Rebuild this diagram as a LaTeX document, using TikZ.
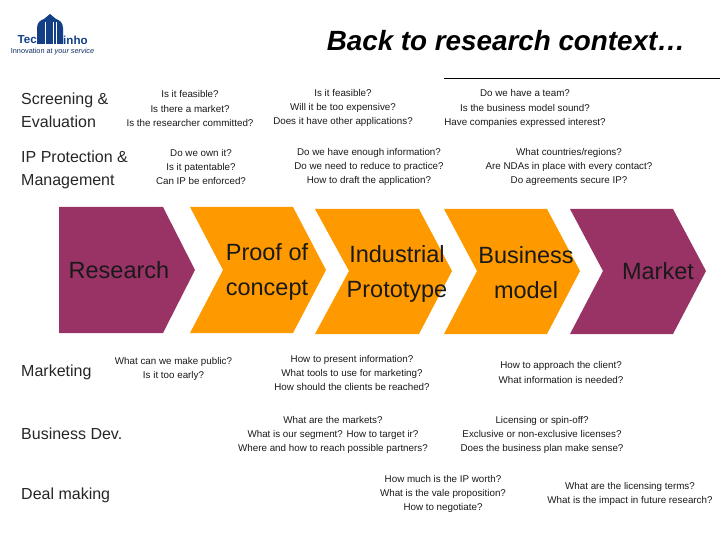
\documentclass[tikz,border=0pt]{standalone}
\usepackage{fontspec}
\setmainfont{Liberation Sans}
\definecolor{plum}{HTML}{993366}
\definecolor{amber}{HTML}{FF9900}
\definecolor{logoblue}{HTML}{123F86}
\tikzset{
    question/.style = {align = center, inner sep = 0pt, font = \fontsize{9.8}{14.4}\selectfont, text = black!90},
    area/.style = {align = left, anchor = west, inner sep = 0pt, font = \fontsize{16}{23}\selectfont, text = black!85},
    stage/.style = {align = center, inner sep = 0pt, font = \fontsize{23.5}{35}\selectfont, text = black!90},
}
\begin{document}
\begin{tikzpicture}[x = 1pt, y = -1pt]
        \useasboundingbox (0, 0) rectangle (720, 540);
        \fill[logoblue] (37, 44) -- (37, 28) .. controls (37, 22) and (41, 20) .. (44, 19) -- (50, 14) -- (56, 19) .. controls (59, 20) and (63, 22) .. (63, 28) -- (63, 44) -- cycle;
        \draw[white, line width = 0.6pt] (45, 22) -- (45, 44);
        \draw[white, line width = 0.6pt] (53, 22) -- (53, 44);
        \draw[white, line width = 0.6pt] (56, 22) -- (56, 44);
        \node[inner sep = 0pt, anchor = east, logoblue, font = \fontsize{11.6}{12}\selectfont\bfseries] (tec) at (37, 40) {Tec};
        \node[inner sep = 0pt, anchor = west, logoblue, font = \fontsize{11.6}{12}\selectfont\bfseries] (inho) at (63, 40) {inho};
        \node[inner sep = 0pt, text = logoblue!70!black, font = \fontsize{7.3}{8}\selectfont] (slogan) at (52.5, 52) {Innovation at \textit{your service}};
        \node[inner sep = 0pt, font = \fontsize{27.8}{30}\selectfont\bfseries\itshape] (title) at (506, 41) {Back to research context…};
        \coordinate (rulestart) at (444, 78);
        \coordinate (ruleend) at (720, 78);
        \draw[line width = 0.7pt] (rulestart) -- (ruleend);

        \fill[plum] (59, 207) -- (163, 207) -- (195, 270) -- (163, 333) -- (59, 333) -- cycle;
        \fill[amber] (190, 207) -- (293, 207) -- (326, 270) -- (293, 333) -- (190, 333) -- (223, 270) -- cycle;
        \fill[amber] (315, 209) -- (419, 209) -- (452, 271) -- (419, 334) -- (315, 334) -- (349, 271) -- cycle;
        \fill[amber] (444, 209) -- (547, 209) -- (580, 271) -- (547, 334) -- (444, 334) -- (477, 271) -- cycle;
        \fill[plum] (570, 209) -- (673, 209) -- (706, 271) -- (673, 334) -- (570, 334) -- (603, 271) -- cycle;

        \node[stage] (research) at (119, 270) {Research};
        \node[stage] (proof) at (267, 271.5) {Proof of\\concept};
        \node[stage] (prototype) at (397, 273.5) {Industrial\\Prototype};
        \node[stage] (business) at (526, 272.5) {Business\\model};
        \node[stage] (market) at (658, 271) {Market};

        \node[area] (screening) at (21, 110.5) {Screening \&\\Evaluation};
        \node[area] (protection) at (21, 169.5) {IP Protection \&\\Management};
        \node[area] (marketing) at (21, 372.5) {Marketing};
        \node[area] (development) at (21, 434) {Business Dev.};
        \node[area] (deal) at (21, 495.5) {Deal making};

        \node[question] (screena) at (190, 108.5) {Is it feasible?\\Is there a market?\\Is the researcher committed?};
        \node[question] (screenb) at (343, 108) {Is it feasible?\\Will it be too expensive?\\Does it have other applications?};
        \node[question] (screenc) at (525, 108.5) {Do we have a team?\\Is the business model sound?\\Have companies expressed interest?};
        \node[question] (ipa) at (201, 167) {Do we own it?\\Is it patentable?\\Can IP be enforced?};
        \node[question] (ipb) at (369, 167) {Do we have enough information?\\Do we need to reduce to practice?\\How to draft the application?};
        \node[question] (ipc) at (569, 167) {What countries/regions?\\Are NDAs in place with every contact?\\Do agreements secure IP?};
        \node[question] (marka) at (173.5, 369) {What can we make public?\\Is it too early?};
        \node[question] (markb) at (352, 373) {How to present information?\\What tools to use for marketing?\\How should the clients be reached?};
        \node[question] (markc) at (561, 372.5) {How to approach the client?\\What information is needed?};
        \node[question] (deva) at (333, 435) {What are the markets?\\What is our segment? How to target ir?\\Where and how to reach possible partners?};
        \node[question] (devb) at (542, 435) {Licensing or spin-off?\\Exclusive or non-exclusive licenses?\\Does the business plan make sense?};
        \node[question] (deala) at (443, 494) {How much is the IP worth?\\What is the vale proposition?\\How to negotiate?};
        \node[question] (dealb) at (630, 494) {What are the licensing terms?\\What is the impact in future research?};
    \end{tikzpicture}
\end{document}
